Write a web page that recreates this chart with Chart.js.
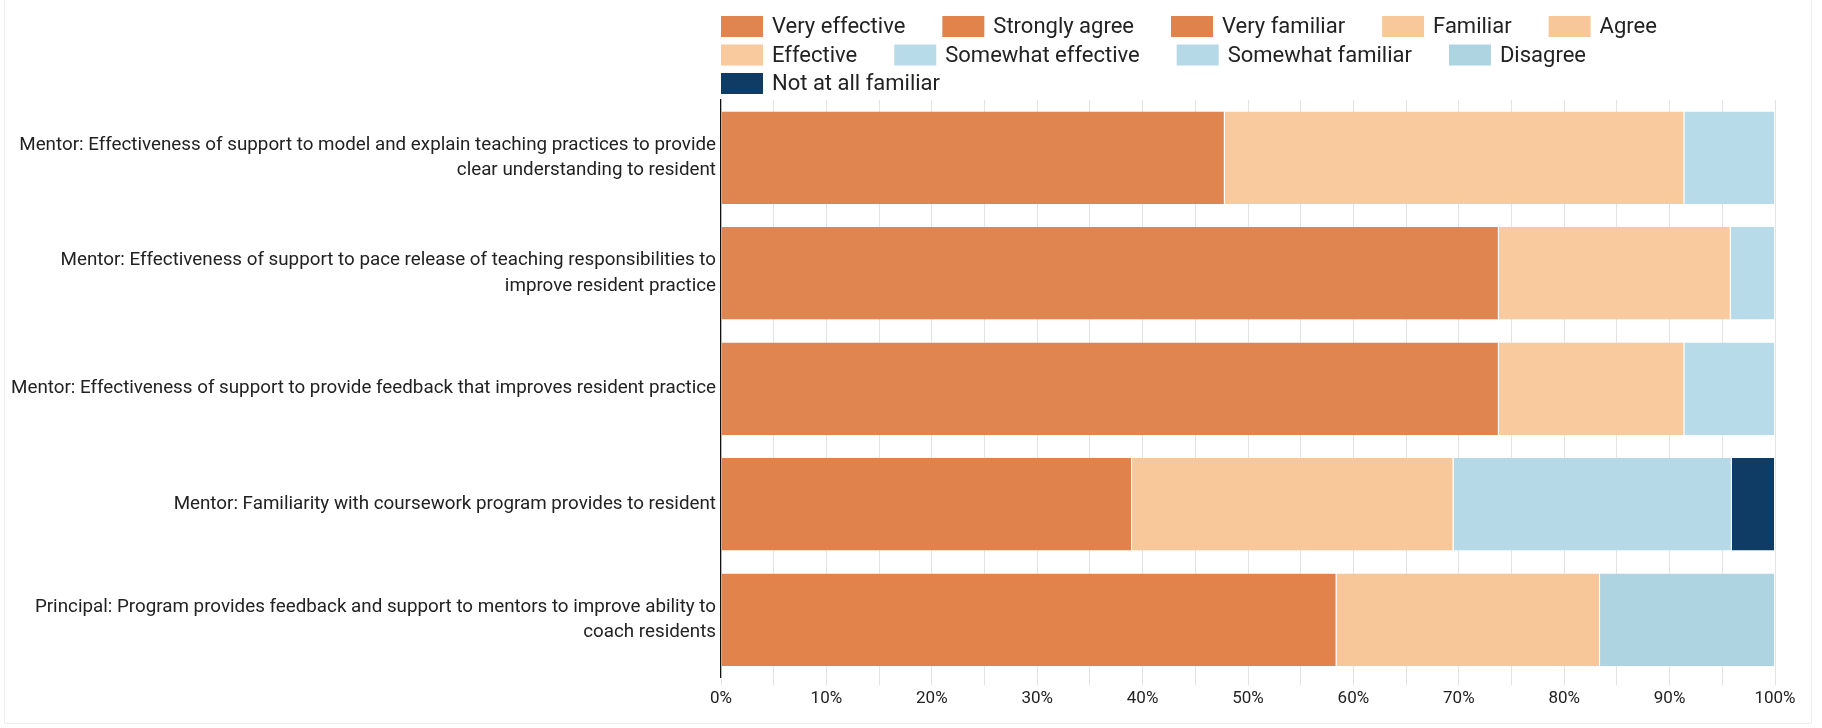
<!DOCTYPE html>
<html>
<head>
<meta charset="utf-8">
<script src="https://cdn.jsdelivr.net/npm/chart.js@4"></script>
<style>
  html, body { margin: 0; padding: 0; background: #fff; }
  #wrap { position: relative; width: 1822px; height: 728px; overflow: hidden; }
  #frame { position: absolute; left: 4px; top: -2px; width: 1806px; height: 724px; border: 1px solid #ededed; pointer-events: none; }
  canvas { display: block; }
</style>
</head>
<body>
<div id="wrap">
  <canvas id="myChart" width="1822" height="728"></canvas>
  <div id="frame"></div>
</div>
<script>
// survey items, one bar each
const categories = [
  ["Mentor: Effectiveness of support to model and explain teaching practices to provide", "clear understanding to resident"],
  ["Mentor: Effectiveness of support to pace release of teaching responsibilities to", "improve resident practice"],
  "Mentor: Effectiveness of support to provide feedback that improves resident practice",
  "Mentor: Familiarity with coursework program provides to resident",
  ["Principal: Program provides feedback and support to mentors to improve ability to", "coach residents"]
];

// response shares in percent, null where the item doesn't use that scale
const veryEffective     = [47.8, 73.8, 73.8, null, null];
const stronglyAgree     = [null, null, null, null, 58.4];
const veryFamiliar      = [null, null, null, 39.0, null];
const familiar          = [null, null, null, 30.5, null];
const agree             = [null, null, null, null, 25.0];
const effective         = [43.6, 22.0, 17.6, null, null];
const somewhatEffective = [8.6, 4.2, 8.6, null, null];
const somewhatFamiliar  = [null, null, null, 26.4, null];
const disagree          = [null, null, null, null, 16.6];
const notAtAllFamiliar  = [null, null, null, 4.1, null];

const seriesNames = ["Very effective", "Strongly agree", "Very familiar", "Familiar", "Agree",
  "Effective", "Somewhat effective", "Somewhat familiar", "Disagree", "Not at all familiar"];
const seriesValues = [veryEffective, stronglyAgree, veryFamiliar, familiar, agree,
  effective, somewhatEffective, somewhatFamiliar, disagree, notAtAllFamiliar];

const xTickValues = [0, 10, 20, 30, 40, 50, 60, 70, 80, 90, 100];

const colors = ["#e0854f", "#e2834b", "#df824c", "#f8c89b", "#f8c799",
  "#f8ca9e", "#b7dbe8", "#b5d9e6", "#afd4e1", "#0e3c64"];

Chart.defaults.font.family = "Roboto";
Chart.defaults.color = "#222";

// legend drawn by hand so the spacing can be set per item and per row
const swatchLegend = {
  id: 'swatchLegend',
  afterDraw(chart) {
    const ctx = chart.ctx;
    const area = chart.chartArea;
    ctx.save();
    ctx.font = '22px Roboto';
    ctx.textBaseline = 'middle';
    ctx.textAlign = 'left';
    let x = area.left, y = 26.5;
    chart.data.datasets.forEach((ds, i) => {
      const w = 42 + 9 + ctx.measureText(ds.label).width;
      if (i > 0 && x + w > area.right) { x = area.left; y += 28.5; }
      ctx.fillStyle = ds.backgroundColor;
      ctx.fillRect(x, y - 10.5, 42, 21);
      ctx.fillStyle = '#222';
      ctx.fillText(ds.label, x + 51, y + 1);
      x += w + 37;
    });
    ctx.restore();
  }
};

const ctx = document.getElementById('myChart').getContext('2d');
const myChart = new Chart(ctx, {
  type: 'bar',
  data: {
    labels: categories,
    datasets: seriesNames.map((name, i) => ({
      label: name,
      data: seriesValues[i],
      backgroundColor: colors[i],
      borderColor: '#ffffff',
      borderWidth: { top: 0, right: 1, bottom: 0, left: 0 },
      borderSkipped: false,
      categoryPercentage: 0.8,
      barPercentage: 1.0
    }))
  },
  options: {
    indexAxis: 'y',
    responsive: false,
    animation: false,
    devicePixelRatio: 1,
    layout: { padding: { top: 100, right: 47, bottom: 0, left: 0 } },
    plugins: {
      legend: { display: false },
      tooltip: { enabled: false }
    },
    scales: {
      x: {
        stacked: true,
        min: 0,
        max: 100,
        afterFit(scale) { scale.height = 50.5; },
        grid: { color: '#e3e3e3', tickLength: 8, drawTicks: true },
        border: { display: false },
        ticks: {
          stepSize: 5,
          autoSkip: false,
          maxRotation: 0,
          padding: 3,
          font: { size: 17 },
          color: '#222',
          callback: (v) => xTickValues.includes(v) ? v + '%' : ''
        }
      },
      y: {
        stacked: true,
        afterFit(scale) { scale.width = 721; },
        grid: { display: false, drawTicks: false },
        border: { display: true, color: '#111', width: 1.2 },
        ticks: {
          padding: 5,
          font: { size: 18.8, lineHeight: 1.36 },
          color: '#222'
        }
      }
    }
  },
  plugins: [swatchLegend]
});
</script>
</body>
</html>
